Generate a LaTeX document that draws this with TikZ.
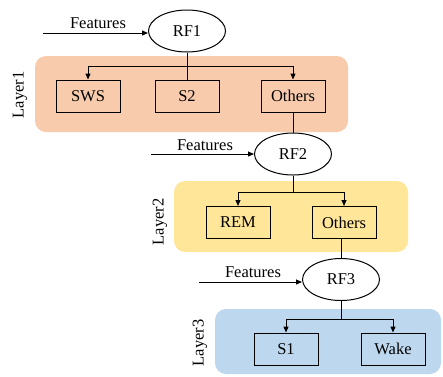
\documentclass[tikz,border=0pt]{standalone}
\usepackage{fontspec}
\setmainfont{Liberation Serif}
\newfontfamily\tnr{Liberation Serif}
\usetikzlibrary{shapes.geometric,arrows.meta}
\definecolor{peach}{HTML}{F8CBAD}
\definecolor{lyellow}{HTML}{FFE699}
\definecolor{lblue}{HTML}{BDD7EE}
\begin{document}
\begin{tikzpicture}[x=1pt,y=-1pt,
  every node/.style={font=\tnr\fontsize{16.5}{19}\selectfont},
  rf/.style={draw,ellipse,line width=1pt,minimum width=77pt,minimum height=42pt,inner sep=0pt},
  cls/.style={draw,rectangle,line width=1pt,minimum width=64pt,minimum height=32pt,inner sep=0pt},
  bg/.style={rounded corners=11pt,draw=none},
  conn/.style={line width=1pt},
  arr/.style={line width=1pt,-{Triangle[length=6pt,width=5pt]}},
  lay/.style={rotate=90}]
\useasboundingbox (0,0) rectangle (443,376);
% backgrounds
\fill[bg,fill=peach] (35,56) rectangle (348,132);
\fill[bg,fill=lyellow] (174,181) rectangle (408,252);
\fill[bg,fill=lblue] (215,309) rectangle (441,374);
% layer labels
\node[lay] (l1) at (20,95) {Layer1};
\node[lay] (l2) at (160,222) {Layer2};
\node[lay] (l3) at (200,343) {Layer3};
% RF1
\node[rf] (rf1) at (187,31) {RF1};
\coordinate (f1) at (43,33);
\draw[arr] (f1) -- (rf1.west |- f1);
\node (ft1) at (98,23) {Features};
\node[cls] (sws) at (88,96) {SWS};
\node[cls] (s2) at (187,96) {S2};
\node[cls] (o1) at (293,96) {Others};
\coordinate (b1) at (187,66);
\draw[conn] (rf1.south) -- (s2.north);
\draw[arr] (b1) -| (sws.north);
\draw[arr] (b1) -| (o1.north);
% RF2
\node[rf] (rf2) at (293,154) {RF2};
\draw[conn] (o1.south) -- (rf2.north);
\coordinate (f2) at (151,154);
\draw[arr] (f2) -- (rf2.west);
\node (ft2) at (205,145) {Features};
\node[cls] (rem) at (238,222.5) {REM};
\node[cls] (o2) at (344,222.5) {Others};
\coordinate (b2) at (293,192);
\draw[conn] (rf2.south) -- (b2);
\draw[arr] (b2) -| (rem.north);
\draw[arr] (b2) -| (o2.north);
% RF3
\node[rf] (rf3) at (341,279.5) {RF3};
\draw[conn] (o2.south -| rf3.north) -- (rf3.north);
\coordinate (f3) at (199,282);
\draw[arr] (f3) -- (rf3.west |- f3);
\node (ft3) at (253,272) {Features};
\node[cls] (s1) at (286,349) {S1};
\node[cls] (wake) at (393,349) {Wake};
\coordinate (b3) at (341,319);
\draw[conn] (rf3.south) -- (b3);
\draw[arr] (b3) -| (s1.north);
\draw[arr] (b3) -| (wake.north);
\end{tikzpicture}
\end{document}
